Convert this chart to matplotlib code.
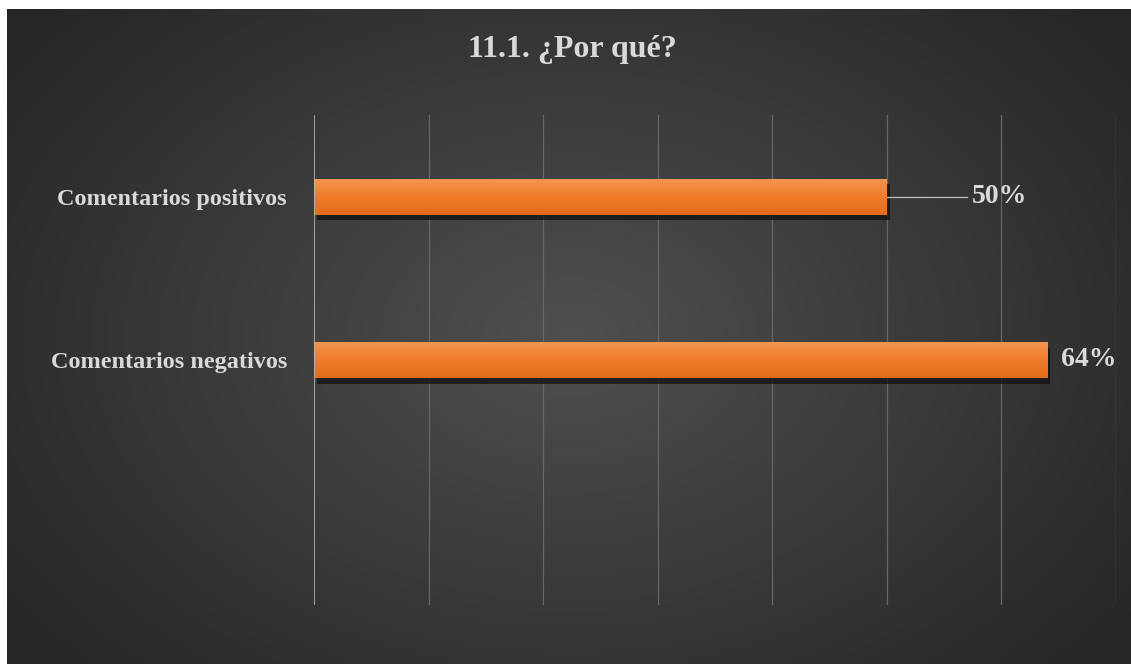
import matplotlib
matplotlib.use("Agg")
import matplotlib.pyplot as plt
import matplotlib.patheffects as pe
from matplotlib.colors import LinearSegmentedColormap
import numpy as np

# chart data
categories = ["Comentarios positivos", "Comentarios negativos"]
values = [50, 64]
x_ticks = [0, 10, 20, 30, 40, 50, 60, 70]
title = "11.1. ¿Por qué?"

TEXT = "#d9d9d9"
SERIF = "Liberation Serif"

fig = plt.figure(figsize=(11.31, 6.64), dpi=100, facecolor="white")

# radial gradient backdrop, leaving a thin white margin top and left
bg = fig.add_axes([7 / 1131, 0, 1 - 7 / 1131, 1 - 9 / 664])
bg.set_axis_off()
yy, xx = np.mgrid[0:1:300j, 0:1:500j]
r = np.sqrt(((xx - 0.5) / 0.62) ** 2 + ((yy - 0.5) / 0.75) ** 2)
shade = np.clip(0.31 - 0.16 * r, 0.15, 0.31)
bg.imshow(np.dstack([shade, shade, shade]), extent=[0, 1, 0, 1], aspect="auto",
          interpolation="bicubic")

# plot area: x 314..1116 px, y 115..605 px
ax = fig.add_axes([314 / 1131, 59 / 664, 802 / 1131, 490 / 664])
ax.patch.set_alpha(0)
for s in ax.spines.values():
    s.set_visible(False)

pos = np.arange(len(categories))

for t in x_ticks[1:]:
    ax.axvline(t, color="#676767", lw=0.9, zorder=1)
ax.axvline(0, color="#b5b5b5", lw=1.2, zorder=4)

bars = ax.barh(pos, values, height=0.22, color="#ec7425", zorder=2, edgecolor="none")

# vertical orange gradient inside each bar, plus a soft drop shadow
bar_cmap = LinearSegmentedColormap.from_list("bar", ["#f39650", "#f07b2a", "#e36c1b"])
grad = np.linspace(0, 1, 64).reshape(-1, 1)
for b in bars:
    b.set_path_effects([pe.SimplePatchShadow(offset=(2, -4), shadow_rgbFace="#111111",
                                             alpha=0.75), pe.Normal()])
    x0, y0, w, h = b.get_x(), b.get_y(), b.get_width(), b.get_height()
    im = ax.imshow(grad, cmap=bar_cmap, aspect="auto", zorder=3,
                   extent=[x0, x0 + w, y0 + h, y0], interpolation="bilinear")
    im.set_clip_path(b)

# three category slots; the last one is left empty
ax.set_xlim(x_ticks[0], x_ticks[-1])
ax.set_ylim(2.5, -0.5)

ax.set_xticks([])
ax.set_yticks(pos)
ax.set_yticklabels(categories, fontfamily=SERIF, fontweight="bold",
                   fontsize=17.5, color=TEXT)
ax.tick_params(axis="y", length=0, pad=19.5)

# value labels; the first sits off the bar with a leader line
ax.plot([values[0], values[0] + 7.0], [pos[0], pos[0]], color="#bfbfbf", lw=0.9, zorder=4)
ax.text(values[0] + 7.4, pos[0], f"{values[0]}%", va="center", ha="left",
        fontfamily=SERIF, fontweight="bold", fontsize=20, color=TEXT)
ax.text(values[1] + 1.2, pos[1], f"{values[1]}%", va="center", ha="left",
        fontfamily=SERIF, fontweight="bold", fontsize=20, color=TEXT)

fig.text(0.506, 1 - 50 / 664, title, ha="center", va="center",
         fontfamily=SERIF, fontweight="bold", fontsize=23, color=TEXT)

fig.savefig("out.png", dpi=100, facecolor="white")
